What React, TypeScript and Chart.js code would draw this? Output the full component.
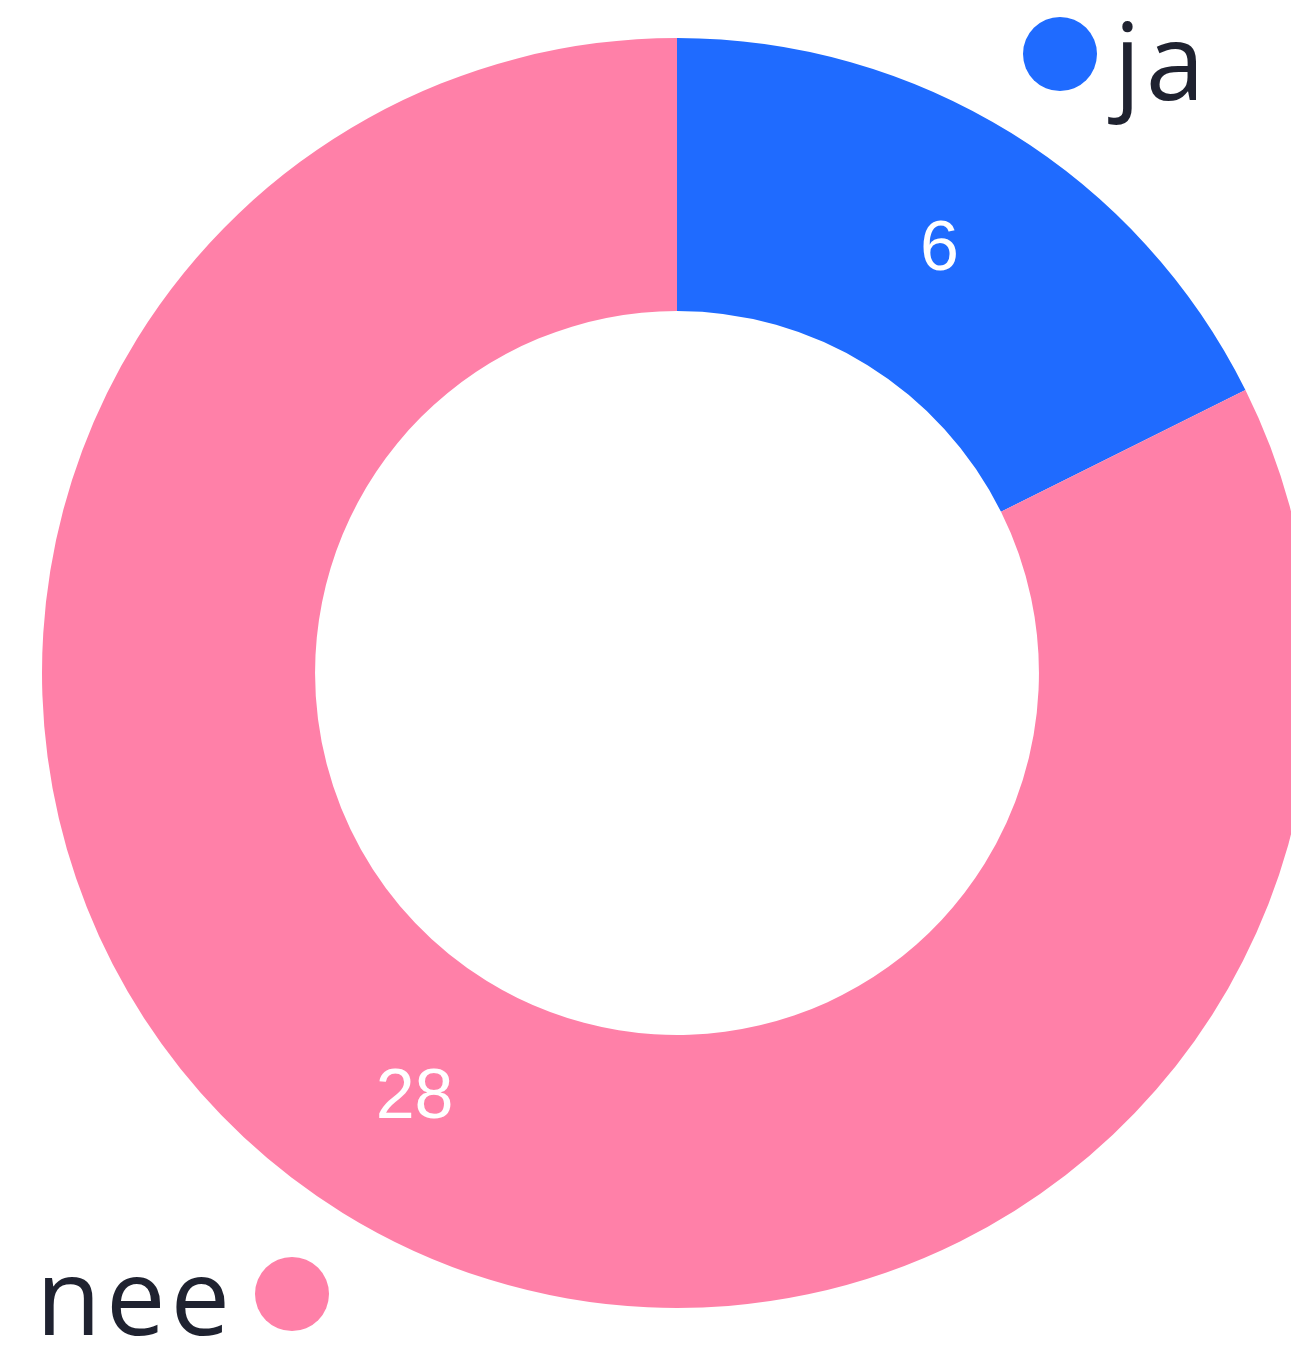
import React, { useEffect, useRef } from "react";
import { Chart, registerables } from "chart.js";

Chart.register(...registerables);

const categories = ["ja", "nee"];
const values = [6, 28];
const colors = ["#1f6bff", "#ff80a8"];

const labelPlugin = {
  id: "sliceLabels",
  afterDraw(chart: any) {
    const ctx = chart.ctx;
    const meta = chart.getDatasetMeta(0);
    ctx.save();
    ctx.fillStyle = "#ffffff";
    ctx.font = "70px 'Liberation Sans', Arial, sans-serif";
    ctx.textAlign = "center";
    ctx.textBaseline = "middle";
    meta.data.forEach((arc: any, i: number) => {
      const p = arc.tooltipPosition();
      ctx.fillText(String(values[i]), p.x, p.y + 2);
    });
    // corner legend
    ctx.textBaseline = "alphabetic";
    ctx.textAlign = "left";
    ctx.font = "106px 'Open Sans', Lato, sans-serif";
    (ctx as any).letterSpacing = "5px";
    // ja
    ctx.beginPath();
    ctx.fillStyle = colors[0];
    ctx.arc(1060, 54, 37, 0, Math.PI * 2);
    ctx.fill();
    ctx.fillStyle = "#1f2230";
    ctx.fillText(categories[0], 1114, 100);
    // nee
    ctx.beginPath();
    ctx.fillStyle = colors[1];
    ctx.arc(292, 1294, 37, 0, Math.PI * 2);
    ctx.fill();
    ctx.fillStyle = "#1f2230";
    ctx.fillText(categories[1], 36, 1335);
    ctx.restore();
  },
};

export default function App() {
  const ref = useRef<HTMLCanvasElement | null>(null);
  useEffect(() => {
    if (!ref.current) return;
    const chart = new Chart(ref.current, {
      type: "doughnut",
      data: {
        labels: categories,
        datasets: [
          {
            data: values,
            backgroundColor: colors,
            borderWidth: 0,
          },
        ],
      },
      options: {
        responsive: false,
        animation: false,
        cutout: "57%",
        layout: { padding: { left: 42, right: 42, top: 38, bottom: 42 } },
        plugins: { legend: { display: false }, tooltip: { enabled: false } },
      },
      plugins: [labelPlugin],
    });
    return () => chart.destroy();
  }, []);
  return (
    <div
      style={{
        position: "absolute",
        left: 0,
        top: 0,
        width: 1291,
        height: 1350,
        overflow: "hidden",
        background: "#ffffff",
      }}
    >
      <canvas ref={ref} width={1354} height={1350} style={{ width: 1354, height: 1350, display: "block" }} />
    </div>
  );
}
